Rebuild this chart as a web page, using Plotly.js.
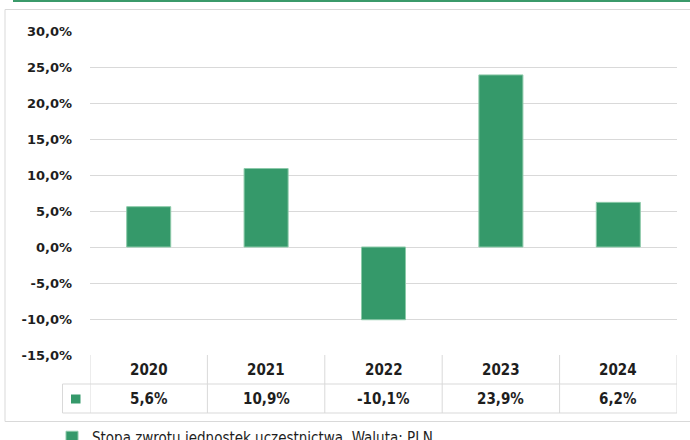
<!DOCTYPE html>
<html>
<head>
<meta charset="utf-8">
<script src="https://cdn.plot.ly/plotly-3.0.1.min.js"></script>
<style>html,body{margin:0;padding:0;background:#fff;}#chart{width:690px;height:440px;}</style>
</head>
<body>
<div id="chart"></div>
<script>
// ---- data ----
const years = ['2020', '2021', '2022', '2023', '2024'];
const returns = [5.6, 10.9, -10.1, 23.9, 6.2];
const returnLabels = ['5,6%', '10,9%', '-10,1%', '23,9%', '6,2%'];
const yTickVals = [-15, -10, -5, 0, 5, 10, 15, 20, 25, 30];
const yTickText = ['-15,0%', '-10,0%', '-5,0%', '0,0%', '5,0%', '10,0%', '15,0%', '20,0%', '25,0%', '30,0%'];
const seriesName = 'Stopa zwrotu jednostek uczestnictwa. Waluta: PLN.';

// ---- style ----
const GREEN = '#35996a';
const GRID = '#d9d9d9';
const TXT = '#1e1e1e';

// plot area in px: x 90..677, y 31..355
const L = 90, R = 13, T = 31, B = 85, W = 690, H = 440;
const pw = W - L - R, ph = H - T - B;
const px = v => (v - L) / pw;
const py = v => (H - B - v) / ph;

const shapes = [];
// outer frame
shapes.push({type: 'rect', xref: 'paper', yref: 'paper', x0: px(5), x1: px(705), y0: py(421.5), y1: py(9.5),
  line: {color: GRID, width: 1}, layer: 'below'});
// green top line
shapes.push({type: 'line', xref: 'paper', yref: 'paper', x0: px(13), x1: px(700), y0: py(1), y1: py(1),
  line: {color: '#3a9a6a', width: 2}});
// table lines
const n = years.length;
for (let i = 0; i <= n; i++) {
  shapes.push({type: 'line', xref: 'x', yref: 'paper', x0: i - 0.5, x1: i - 0.5, y0: py(413), y1: py(355),
    line: {color: GRID, width: 1}});
}
shapes.push({type: 'line', xref: 'paper', yref: 'paper', x0: px(62.5), x1: px(62.5), y0: py(413), y1: py(384),
  line: {color: GRID, width: 1}});
shapes.push({type: 'line', xref: 'paper', yref: 'paper', x0: px(62.5), x1: 1, y0: py(384), y1: py(384),
  line: {color: GRID, width: 1}});
shapes.push({type: 'line', xref: 'paper', yref: 'paper', x0: px(62.5), x1: 1, y0: py(413), y1: py(413),
  line: {color: GRID, width: 1}});
// legend key in table
shapes.push({type: 'rect', xref: 'paper', yref: 'paper', x0: px(71), x1: px(80.5), y0: py(403.5), y1: py(394.5),
  fillcolor: GREEN, line: {width: 0}});

const annotations = [];
const tblFont = {family: 'DejaVu Sans Condensed', size: 15, color: TXT};
years.forEach((y, i) => {
  annotations.push({x: i, xref: 'x', y: py(370), yref: 'paper', text: '<b>' + y + '</b>', showarrow: false,
    xanchor: 'center', yanchor: 'middle', font: tblFont});
  annotations.push({x: i, xref: 'x', y: py(399), yref: 'paper', text: '<b>' + returnLabels[i] + '</b>', showarrow: false,
    xanchor: 'center', yanchor: 'middle', font: tblFont});
});

const trace = {
  type: 'bar', x: years, y: returns, name: seriesName,
  marker: {color: GREEN, line: {color: '#8ccaa9', width: 1}},
  width: 0.375, hoverinfo: 'skip'
};

const layout = {
  width: W, height: H,
  margin: {l: L, r: R, t: T, b: B, pad: 0, autoexpand: false},
  paper_bgcolor: '#fff', plot_bgcolor: '#fff',
  showlegend: true,
  legend: {x: px(52), y: py(421), xanchor: 'left', yanchor: 'top', orientation: 'h',
    font: {family: 'DejaVu Sans Condensed', size: 15, color: TXT}, bgcolor: 'rgba(0,0,0,0)'},
  xaxis: {type: 'category', showticklabels: false, showgrid: false, zeroline: false, showline: false, ticks: '',
    range: [-0.5, 4.5], fixedrange: true},
  yaxis: {range: [-15, 30], tickmode: 'array', tickvals: yTickVals, ticktext: yTickText,
    showgrid: true, gridcolor: GRID, gridwidth: 1, zeroline: false, showline: false, ticks: '',
    ticklabelstandoff: 17,
    tickfont: {family: 'DejaVu Sans', size: 13, color: TXT, weight: 'bold'}, fixedrange: true},
  shapes: shapes, annotations: annotations
};

Plotly.newPlot('chart', [trace], layout, {staticPlot: true, displayModeBar: false});
</script>
</body>
</html>
